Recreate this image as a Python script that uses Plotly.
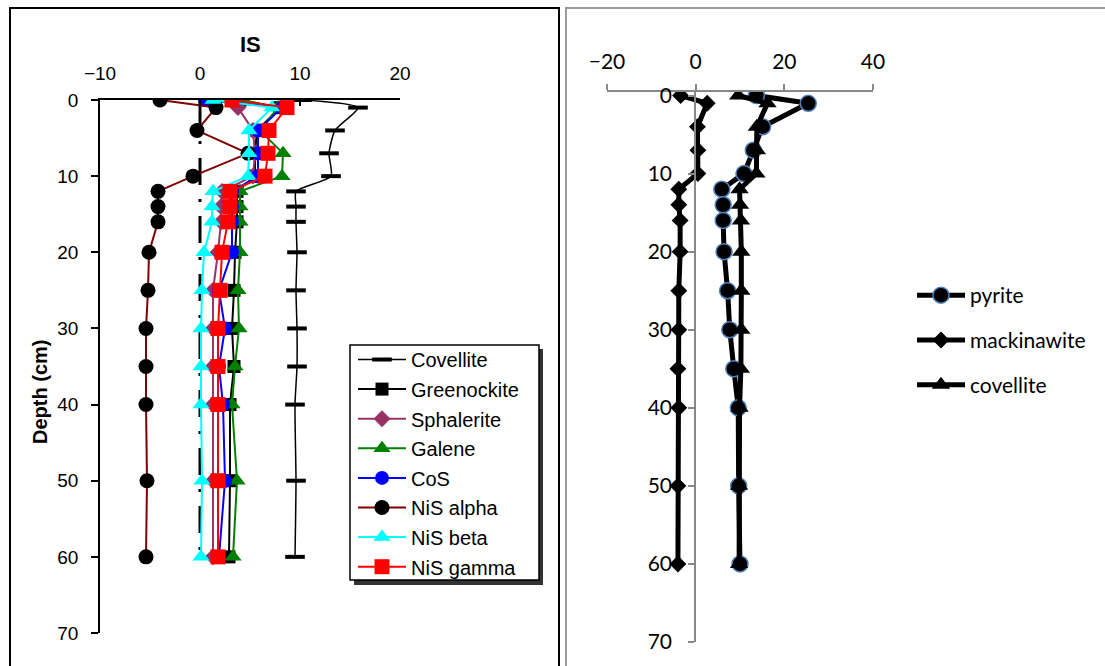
import plotly.graph_objects as go

W, H = 1105, 666
def px(x):
    return x / W
def py(y):
    return 1 - y / H

# ---------------- data ----------------
depth = [0, 1, 4, 7, 10, 12, 14, 16, 20, 25, 30, 35, 40, 50, 60]

covellite_L = [10.2, 15.8, 13.5, 12.9, 13.1, 9.6, 9.6, 9.6, 9.7, 9.6, 9.7, 9.7, 9.5, 9.6, 9.5]
greenockite = [4.0, 8.0, 5.7, 5.5, 5.5, 3.7, 3.7, 3.7, 3.5, 3.4, 3.2, 3.4, 3.0, 3.0, 2.9]
sphalerite = [3.2, 3.8, 5.3, 5.5, 5.3, 2.2, 2.1, 2.1, 1.8, 1.3, 1.3, 1.3, 1.3, 1.3, 1.3]
galene = [4.3, 7.8, 6.0, 8.3, 8.2, 4.0, 4.0, 4.0, 4.0, 3.8, 3.9, 3.5, 3.2, 3.7, 3.3]
cos = [0.5, 8.2, 5.8, 5.8, 5.8, 3.2, 3.2, 3.2, 3.2, 1.9, 2.5, 1.9, 2.3, 2.5, 1.9]
nis_alpha = [-4.0, 1.6, -0.3, 4.8, -0.7, -4.2, -4.2, -4.2, -5.1, -5.2, -5.4, -5.4, -5.4, -5.3, -5.4]
nis_beta = [1.3, 7.2, 4.9, 4.9, 4.8, 1.3, 1.2, 1.2, 0.4, 0.2, 0.1, 0.1, 0.1, 0.2, 0.1]
nis_gamma = [3.2, 8.7, 6.9, 6.8, 6.5, 3.0, 3.0, 2.8, 2.2, 2.0, 1.8, 1.8, 1.8, 1.8, 1.8]

zero_x = [0, 0]
zero_depth = [0, 60]

pyrite = [13.7, 25.4, 15.1, 13.0, 10.9, 5.9, 6.2, 6.2, 6.4, 7.2, 7.7, 8.6, 9.6, 9.7, 10.0]
mackinawite = [-3.4, 2.6, 0.4, 0.5, 0.5, -3.8, -3.8, -3.5, -3.5, -3.8, -3.8, -4.0, -3.8, -4.0, -4.0]
covellite_R = [9.6, 16.2, 13.8, 13.8, 13.7, 9.9, 10.0, 10.2, 10.3, 10.3, 10.3, 10.2, 9.9, 9.8, 9.8]

left_ticks = [-10, 0, 10, 20]
right_ticks = [-20, 0, 20, 40]
depth_ticks = [0, 10, 20, 30, 40, 50, 60, 70]

ARIAL = "Liberation Sans, Arial, sans-serif"
CAL = "Lato, Carlito, Calibri, sans-serif"

fig = go.Figure()

# zero reference (dash-dot)
fig.add_trace(go.Scatter(x=zero_x, y=zero_depth, mode="lines", showlegend=False,
                         line=dict(color="black", width=3, dash="27px,14px,3px,14px"),
                         xaxis="x", yaxis="y", hoverinfo="skip"))

left_series = [
    ("Covellite", covellite_L, "black", "black", "line-ew", 14, "spline", 1.5),
    ("Greenockite", greenockite, "black", "black", "square", 13, "linear", 2),
    ("Sphalerite", sphalerite, "#993366", "#993366", "diamond", 13, "linear", 2),
    ("Galene", galene, "#008000", "#008000", "triangle-up", 15, "linear", 2),
    ("CoS", cos, "#0000FF", "#0000FF", "circle", 14, "linear", 2),
    ("NiS alpha", nis_alpha, "#800000", "black", "circle", 15, "linear", 2),
    ("NiS beta", nis_beta, "#00FFFF", "#00FFFF", "triangle-up", 15, "linear", 2),
    ("NiS gamma", nis_gamma, "#FF0000", "#FF0000", "square", 15, "linear", 2),
]
for name, xs, lc, mc, sym, sz, shape, lw in left_series:
    if sym == "line-ew":
        marker = dict(symbol=sym, size=sz, line=dict(color=mc, width=4), color=mc)
    else:
        marker = dict(symbol=sym, size=sz, color=mc, line=dict(width=0))
    fig.add_trace(go.Scatter(
        x=xs, y=depth, name=name, mode="lines+markers",
        line=dict(color=lc, width=lw, shape=shape, smoothing=0.6),
        marker=marker, xaxis="x", yaxis="y", legend="legend",
        legendgroup=name))

right_series = [
    ("pyrite", pyrite, "circle", 16, dict(color="#4F81BD", width=1.5)),
    ("mackinawite", mackinawite, "diamond", 13, dict(width=0)),
    ("covellite", covellite_R, "triangle-up", 16, dict(width=0)),
]
for name, xs, sym, sz, mline in right_series:
    fig.add_trace(go.Scatter(
        x=xs, y=depth, name=name, mode="lines+markers",
        line=dict(color="black", width=5),
        marker=dict(symbol=sym, size=sz, color="black", line=mline),
        xaxis="x2", yaxis="y2", legend="legend2", legendgroup=name))

shapes = [
    # left panel frame
    dict(type="rect", xref="paper", yref="paper", x0=px(10), x1=px(559), y0=py(700), y1=py(8),
         line=dict(color="black", width=2), layer="below"),
    # right panel frame
    dict(type="rect", xref="paper", yref="paper", x0=px(566), x1=px(1120), y0=py(700), y1=py(8),
         line=dict(color="#999999", width=2), layer="below"),
    # legend shadow + box
    dict(type="rect", xref="paper", yref="paper", x0=px(354), x1=px(543), y0=py(585), y1=py(349),
         line=dict(width=0), fillcolor="#333333", layer="above"),
    dict(type="rect", xref="paper", yref="paper", x0=px(350), x1=px(539), y0=py(580), y1=py(345),
         line=dict(color="black", width=1.5), fillcolor="white", layer="above"),
]

annotations = [
    dict(text="<b>IS</b>", x=px(250), y=py(45), xref="paper", yref="paper", showarrow=False,
         xanchor="center", yanchor="middle",
         font=dict(family=ARIAL, size=22, color="black")),
    dict(text="<b>Depth (cm)</b>", x=px(40), y=py(392), xref="paper", yref="paper", showarrow=False,
         xanchor="center", yanchor="middle",
         textangle=-90, font=dict(family=ARIAL, size=20, color="black")),
]

fig.update_layout(
    width=W, height=H, margin=dict(l=0, r=0, t=0, b=0),
    paper_bgcolor="white", plot_bgcolor="rgba(0,0,0,0)",
    showlegend=True,
    xaxis=dict(domain=[px(100), px(400)], range=[-10, 20], tickvals=left_ticks, side="top",
               anchor="y", showline=True, linecolor="black", linewidth=1.5, ticks="inside",
               ticklen=6, tickwidth=1.5, tickcolor="black", showgrid=False, zeroline=False,
               tickfont=dict(family=ARIAL, size=19, color="black"), ticklabelstandoff=11,
               automargin=False),
    yaxis=dict(domain=[py(633), py(100)], range=[70, 0], tickvals=depth_ticks, anchor="x",
               showline=True, linecolor="black", linewidth=1.5, ticks="outside", ticklen=7,
               tickwidth=1.5, tickcolor="black", showgrid=False, zeroline=False,
               tickfont=dict(family=ARIAL, size=19, color="black"), ticklabelstandoff=9,
               automargin=False),
    xaxis2=dict(domain=[px(607), px(873)], range=[-20, 40], tickvals=right_ticks, side="top",
                anchor="y2", showline=True, linecolor="#888888", linewidth=1.5, ticks="outside",
                ticklen=6, tickwidth=1.5, tickcolor="#888888", showgrid=False, zeroline=False,
                tickfont=dict(family=CAL, size=21, color="black"), ticklabelstandoff=7,
                automargin=False),
    yaxis2=dict(domain=[py(642), py(92)], range=[70, -0.45], tickvals=depth_ticks,
                anchor="free", position=px(695), side="left", showline=True, linecolor="#888888",
                linewidth=1.5, ticks="outside", ticklen=6, tickwidth=1.5, tickcolor="#888888",
                showgrid=False, zeroline=False,
                tickfont=dict(family=CAL, size=21, color="black"), ticklabelstandoff=12,
                automargin=False),
    legend=dict(x=px(353), y=py(340), xanchor="left", yanchor="top", bgcolor="rgba(0,0,0,0)",
                borderwidth=0, font=dict(family=ARIAL, size=20, color="black"),
                tracegroupgap=0.6, itemwidth=48),
    legend2=dict(x=px(912), y=py(275), xanchor="left", yanchor="top", bgcolor="rgba(0,0,0,0)",
                 borderwidth=0, font=dict(family=CAL, size=21, color="black"),
                 tracegroupgap=14.5, itemwidth=48),
    shapes=shapes, annotations=annotations,
)

fig.write_html("out.html")
